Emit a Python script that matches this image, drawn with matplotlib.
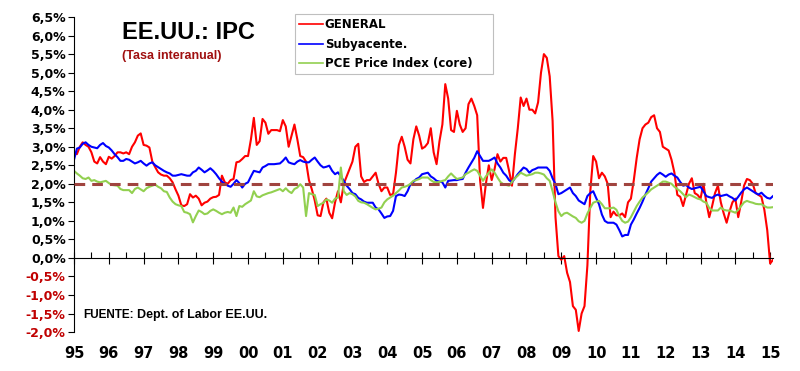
import matplotlib.pyplot as plt
import numpy as np

# EE.UU. IPC, tasa interanual (%), mensual ene-1995 .. feb-2015
general = [
    2.85, 2.80, 3.00, 3.12, 3.05, 3.00, 2.85, 2.60, 2.55, 2.72, 2.60, 2.53,
    2.73, 2.68, 2.75, 2.85, 2.85, 2.82, 2.85, 2.80, 3.00, 3.12, 3.30, 3.36,
    3.05, 3.03, 2.98, 2.60, 2.45, 2.31, 2.25, 2.22, 2.22, 2.15, 2.04, 1.85,
    1.68, 1.42, 1.40, 1.45, 1.72, 1.63, 1.68, 1.60, 1.42, 1.49, 1.52, 1.60,
    1.64, 1.65, 1.70, 2.22, 2.04, 2.00, 2.10, 2.13, 2.58, 2.60, 2.67, 2.75,
    2.75, 3.20, 3.78, 3.05, 3.15, 3.75, 3.65, 3.35, 3.45, 3.45, 3.45, 3.42,
    3.72, 3.55, 3.00, 3.30, 3.60, 3.20, 2.75, 2.72, 2.60, 2.10, 1.85, 1.55,
    1.15, 1.13, 1.50, 1.60, 1.22, 1.07, 1.50, 1.80, 1.50, 2.00, 2.20, 2.40,
    2.60, 3.00, 3.08, 2.20, 2.05, 2.10, 2.10, 2.20, 2.30, 2.00, 1.80, 1.90,
    1.90, 1.70, 1.72, 2.30, 3.05, 3.27, 3.00, 2.65, 2.55, 3.20, 3.55, 3.30,
    2.95, 3.00, 3.10, 3.50, 2.85, 2.53, 3.15, 3.60, 4.69, 4.30, 3.45, 3.40,
    3.97, 3.60, 3.40, 3.50, 4.15, 4.30, 4.10, 3.85, 2.10, 1.35, 2.00, 2.50,
    2.10, 2.40, 2.80, 2.60, 2.70, 2.70, 2.35, 1.95, 2.80, 3.50, 4.33, 4.10,
    4.30, 4.00, 4.00, 3.90, 4.20, 5.00, 5.50, 5.40, 4.90, 3.70, 1.10, 0.05,
    -0.05, 0.05, -0.40, -0.65, -1.30, -1.40, -1.97, -1.50, -1.30, -0.20, 1.80, 2.75,
    2.60, 2.15, 2.30, 2.20, 2.00, 1.10, 1.25, 1.15, 1.15, 1.20, 1.10, 1.50,
    1.60, 2.10, 2.70, 3.20, 3.50, 3.60, 3.65, 3.80, 3.85, 3.50, 3.40, 3.00,
    2.95, 2.90, 2.65, 2.30, 1.70, 1.65, 1.40, 1.70, 2.00, 2.15, 1.75, 1.70,
    1.60, 2.00, 1.50, 1.10, 1.40, 1.75, 1.95, 1.50, 1.20, 0.95, 1.25, 1.50,
    1.60, 1.10, 1.50, 1.95, 2.13, 2.10, 2.00, 1.75, 1.70, 1.65, 1.30, 0.75,
    -0.15, -0.05,
]

subyacente = [
    2.65, 2.95, 2.98, 3.08, 3.12, 3.05, 3.00, 2.98, 2.96, 3.05, 3.10, 3.02,
    2.98, 2.90, 2.80, 2.72, 2.62, 2.62, 2.67, 2.65, 2.60, 2.55, 2.58, 2.62,
    2.55, 2.49, 2.55, 2.58, 2.50, 2.45, 2.40, 2.35, 2.31, 2.28, 2.22, 2.22,
    2.24, 2.26, 2.24, 2.22, 2.22, 2.31, 2.35, 2.44, 2.38, 2.31, 2.36, 2.42,
    2.35, 2.26, 2.15, 2.06, 2.00, 1.95, 1.92, 2.00, 2.10, 2.02, 1.90, 2.00,
    2.04, 2.20, 2.35, 2.33, 2.31, 2.44, 2.48, 2.53, 2.53, 2.53, 2.54, 2.55,
    2.62, 2.71, 2.58, 2.55, 2.53, 2.60, 2.64, 2.60, 2.58, 2.58, 2.65, 2.71,
    2.60, 2.50, 2.44, 2.46, 2.49, 2.35, 2.26, 2.31, 2.20, 2.08, 1.95, 1.86,
    1.75, 1.72, 1.62, 1.58, 1.52, 1.49, 1.49, 1.49, 1.36, 1.31, 1.20, 1.08,
    1.12, 1.13, 1.27, 1.67, 1.71, 1.70, 1.67, 1.80, 1.99, 2.05, 2.13, 2.17,
    2.26, 2.28, 2.30, 2.20, 2.15, 2.08, 2.06, 2.04, 1.90, 2.08, 2.09, 2.10,
    2.10, 2.12, 2.13, 2.30, 2.44, 2.57, 2.70, 2.88, 2.75, 2.62, 2.62, 2.62,
    2.66, 2.71, 2.55, 2.44, 2.30, 2.22, 2.10, 2.04, 2.15, 2.26, 2.35, 2.44,
    2.40, 2.30, 2.37, 2.40, 2.44, 2.44, 2.44, 2.44, 2.35, 2.15, 1.99, 1.72,
    1.75, 1.80, 1.85, 1.90, 1.75, 1.67, 1.55, 1.50, 1.45, 1.67, 1.75, 1.80,
    1.62, 1.45, 1.17, 1.00, 0.95, 0.95, 0.95, 0.90, 0.75, 0.58, 0.62, 0.62,
    0.90, 1.04, 1.20, 1.35, 1.52, 1.71, 1.88, 2.06, 2.15, 2.24, 2.30, 2.25,
    2.19, 2.25, 2.28, 2.22, 2.17, 2.05, 1.95, 1.97, 1.90, 1.86, 1.88, 1.90,
    1.92, 1.80, 1.67, 1.64, 1.62, 1.68, 1.71, 1.67, 1.69, 1.71, 1.66, 1.62,
    1.55, 1.65, 1.76, 1.85, 1.90, 1.85, 1.80, 1.75, 1.71, 1.76, 1.68, 1.62,
    1.60, 1.67,
]

pce_core = [
    2.35, 2.28, 2.22, 2.15, 2.13, 2.17, 2.08, 2.10, 2.06, 2.04, 2.06, 2.08,
    2.02, 1.97, 1.96, 1.95, 1.86, 1.83, 1.83, 1.83, 1.75, 1.86, 1.90, 1.85,
    1.80, 1.88, 1.92, 1.95, 1.98, 1.92, 1.88, 1.80, 1.78, 1.63, 1.52, 1.45,
    1.42, 1.40, 1.24, 1.22, 1.18, 0.96, 1.13, 1.28, 1.24, 1.18, 1.20, 1.27,
    1.31, 1.27, 1.22, 1.18, 1.22, 1.24, 1.22, 1.36, 1.13, 1.40, 1.38, 1.45,
    1.50, 1.55, 1.80, 1.66, 1.64, 1.69, 1.72, 1.75, 1.77, 1.80, 1.83, 1.86,
    1.80, 1.88, 1.80, 1.75, 1.86, 1.90, 1.99, 1.90, 1.13, 1.75, 1.72, 1.70,
    1.40, 1.45, 1.49, 1.58, 1.55, 1.49, 1.60, 1.63, 2.44, 1.80, 1.70, 1.75,
    1.72, 1.66, 1.54, 1.50, 1.49, 1.45, 1.40, 1.35, 1.31, 1.33, 1.36, 1.50,
    1.58, 1.63, 1.68, 1.75, 1.82, 1.90, 1.92, 1.95, 2.00, 2.08, 2.10, 2.13,
    2.17, 2.17, 2.17, 2.10, 2.05, 2.04, 2.05, 2.08, 2.10, 2.20, 2.28, 2.20,
    2.13, 2.15, 2.17, 2.26, 2.30, 2.35, 2.39, 2.35, 2.22, 2.08, 2.20, 2.30,
    2.39, 2.30, 2.17, 2.05, 1.99, 1.97, 1.95, 2.05, 2.15, 2.22, 2.30, 2.26,
    2.22, 2.24, 2.26, 2.30, 2.30, 2.28, 2.25, 2.15, 2.08, 1.80, 1.50, 1.26,
    1.13, 1.20, 1.22, 1.17, 1.12, 1.08, 0.99, 0.95, 1.00, 1.20, 1.35, 1.49,
    1.52, 1.54, 1.45, 1.34, 1.34, 1.34, 1.36, 1.30, 1.13, 1.00, 0.95, 0.98,
    1.10, 1.25, 1.40, 1.52, 1.63, 1.70, 1.77, 1.85, 1.90, 1.95, 2.00, 2.06,
    2.06, 2.03, 2.00, 1.92, 1.86, 1.80, 1.72, 1.64, 1.71, 1.68, 1.64, 1.60,
    1.58, 1.52, 1.49, 1.35, 1.28, 1.28, 1.28, 1.36, 1.30, 1.28, 1.28, 1.25,
    1.22, 1.30, 1.40, 1.50, 1.54, 1.51, 1.49, 1.46, 1.45, 1.45, 1.40, 1.36,
    1.36, 1.37,
]

objetivo = 2.0
year_labels = ['95', '96', '97', '98', '99', '00', '01', '02', '03', '04',
               '05', '06', '07', '08', '09', '10', '11', '12', '13', '14', '15']

x = 1995 + np.arange(len(general)) / 12.0
years = 1995 + np.arange(len(year_labels))

fig = plt.figure(figsize=(8, 3.71), dpi=100)
ax = fig.add_axes([0.0925, 0.105, 0.8738, 0.849])

l1, = ax.plot(x, general, color='#FF0000', lw=1.5, label='GENERAL')
l2, = ax.plot(x, subyacente, color='#0000FF', lw=1.5, label='Subyacente.')
l3, = ax.plot(x, pce_core, color='#92D050', lw=1.5, label='PCE Price Index (core)')
ax.axhline(objetivo, color='#A0443F', lw=2.2, ls=(0, (3.5, 2.3)), zorder=5)

ax.set_xlim(x[0], x[-1])
ax.set_ylim(-2.0, 6.5)

# ejes estilo Excel
for s in ['top', 'right']:
    ax.spines[s].set_visible(False)
ax.spines['bottom'].set_position(('data', 0))
ax.spines['left'].set_linewidth(0.8)
ax.spines['bottom'].set_linewidth(0.8)

yt = np.arange(-2.0, 6.51, 0.5)
ax.set_yticks(yt)
ax.set_yticklabels([('%.1f%%' % v).replace('.', ',') for v in yt],
                   fontsize=9, fontweight='bold', family='DejaVu Sans')
for v, lab in zip(yt, ax.get_yticklabels()):
    if v < 0:
        lab.set_color('#C00000')
ax.tick_params(axis='y', direction='out', length=4, width=0.8, pad=2)

ax.set_xticks(years)
ax.set_xticks(years[:-1] + 0.5, minor=True)
ax.set_xticklabels([])
ax.tick_params(axis='x', which='major', direction='inout', length=8, width=0.8)
ax.tick_params(axis='x', which='minor', direction='in', length=4, width=0.8)

for yr, lab in zip(years, year_labels):
    ax.text(yr, -0.068, lab, transform=ax.get_xaxis_transform(),
            ha='center', va='center', fontsize=10.5, fontweight='bold',
            family='DejaVu Sans')

fig.text(0.153, 0.913, 'EE.UU.: IPC', fontsize=17, fontweight='bold',
         family='Liberation Sans', va='center')
fig.text(0.153, 0.848, '(Tasa interanual)', fontsize=9, fontweight='bold',
         family='Liberation Sans', color='#A01010', va='center')

fig.text(0.104, 0.151, 'FUENTE:', fontsize=8.5, fontweight='bold',
         family='Liberation Sans', va='center')
fig.text(0.171, 0.151, 'Dept. of Labor EE.UU.', fontsize=9, fontweight='bold',
         family='Liberation Sans', va='center')

leg = ax.legend(handles=[l1, l2, l3], loc='upper left', mode='expand',
                bbox_to_anchor=(0.369, 0.80, 0.2475, 0.162),
                bbox_transform=fig.transFigure, borderaxespad=0,
                prop={'family': 'DejaVu Sans', 'weight': 'bold', 'size': 8.5},
                handlelength=2.0, handletextpad=0.15, labelspacing=0.55,
                borderpad=0.35, fancybox=False, framealpha=1)
leg.get_frame().set_edgecolor('#BFBFBF')
leg.get_frame().set_linewidth(0.8)
for h in leg.get_lines():
    h.set_linewidth(1.2)

fig.savefig('out.png', dpi=100)
